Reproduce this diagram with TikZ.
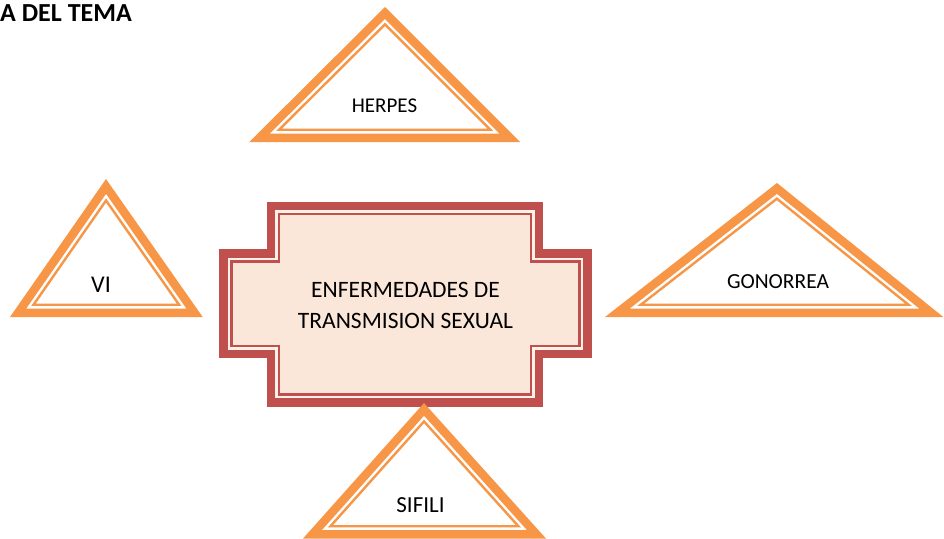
\documentclass[tikz,border=0pt]{standalone}
\usepackage{fontspec}
\setmainfont{Carlito}
\usetikzlibrary{calc}
\definecolor{tribor}{HTML}{F79646}
\definecolor{crossred}{HTML}{C0504D}
\definecolor{crossfill}{HTML}{FBE6DA}
\definecolor{crossgap}{HTML}{FDF1EA}
\tikzset{
  triband/.style={draw=tribor, line width=8.5pt, miter limit=20, fill=white},
  trithin/.style={draw=tribor, line width=2.4pt, miter limit=20},
  crossband/.style={draw=crossred, line width=8.5pt, fill=crossgap},
  crossthin/.style={draw=crossred, line width=2.4pt, fill=crossfill},
  lbl/.style={inner sep=0pt, anchor=base, text=black},
}
% cross-shaped outline inset by #1 from its outer edge
\newcommand\crosspath[1]{%
  (219+#1,249.3+#1) -- (266.7+#1,249.3+#1) -- (266.7+#1,201.7+#1) --
  (543.3-#1,201.7+#1) -- (543.3-#1,249.3+#1) -- (591.7-#1,249.3+#1) --
  (591.7-#1,358.3-#1) -- (543.3-#1,358.3-#1) -- (543.3-#1,406.7-#1) --
  (266.7+#1,406.7-#1) -- (266.7+#1,358.3-#1) -- (219+#1,358.3-#1) -- cycle}
% triangle: apex x, apex y, base left x, base right x, base y, name
\newcommand\bordtri[6]{%
  \pgfmathsetmacro\tA{#4-#3}%
  \pgfmathsetmacro\tB{veclen(#1-#4,#2-#5)}%
  \pgfmathsetmacro\tC{veclen(#1-#3,#2-#5)}%
  \pgfmathsetmacro\tP{\tA+\tB+\tC}%
  \pgfmathsetmacro\Ix{\tA/\tP*#1+\tB/\tP*#3+\tC/\tP*#4}%
  \pgfmathsetmacro\Iy{\tA/\tP*#2+(\tB+\tC)/\tP*#5}%
  \pgfmathsetmacro\rr{#5-\Iy}%
  \pgfmathsetmacro\kb{(\rr-4.25)/\rr}%
  \pgfmathsetmacro\kt{(\rr-12.3)/\rr}%
  \coordinate (#6-I) at (\Ix,\Iy);
  \coordinate (#6-A) at (#1,#2);
  \coordinate (#6-L) at (#3,#5);
  \coordinate (#6-R) at (#4,#5);
  \draw[triband] ($(#6-I)!\kb!(#6-A)$) -- ($(#6-I)!\kb!(#6-R)$) -- ($(#6-I)!\kb!(#6-L)$) -- cycle;
  \draw[trithin] ($(#6-I)!\kt!(#6-A)$) -- ($(#6-I)!\kt!(#6-R)$) -- ($(#6-I)!\kt!(#6-L)$) -- cycle;
}
\begin{document}
\begin{tikzpicture}[x=1pt, y=-1pt]
\useasboundingbox (0,0) rectangle (944,538);
% title
\node[lbl, anchor=base west, font=\bfseries\fontsize{26}{30}\selectfont] (title) at (0,21) {A DEL TEMA};
% central shape
\draw[crossband] \crosspath{4.25};
\draw[crossthin] \crosspath{12.3};
\node[inner sep=0pt, align=center, text=black, font=\fontsize{23.5}{31}\selectfont] (centre) at (405.5,305) {ENFERMEDADES DE\\TRANSMISION SEXUAL};
% triangles
\bordtri{385}{7}{249.3}{520}{142}{herpes}
\bordtri{106}{179}{10}{202.7}{317}{vi}
\bordtri{777}{183}{605}{943.3}{317}{gono}
\bordtri{424}{403}{303}{546}{538.5}{sifili}
% labels
\node[lbl, font=\fontsize{21}{25}\selectfont] (herpesl) at (384.5,112) {HERPES};
\node[lbl, font=\fontsize{24}{28}\selectfont] (vil) at (101,292) {VI};
\node[lbl, font=\fontsize{21.5}{25}\selectfont] (gonol) at (778,288) {GONORREA};
\node[lbl, font=\fontsize{23}{27}\selectfont] (sifilil) at (420.5,512) {SIFILI};
\end{tikzpicture}
\end{document}
